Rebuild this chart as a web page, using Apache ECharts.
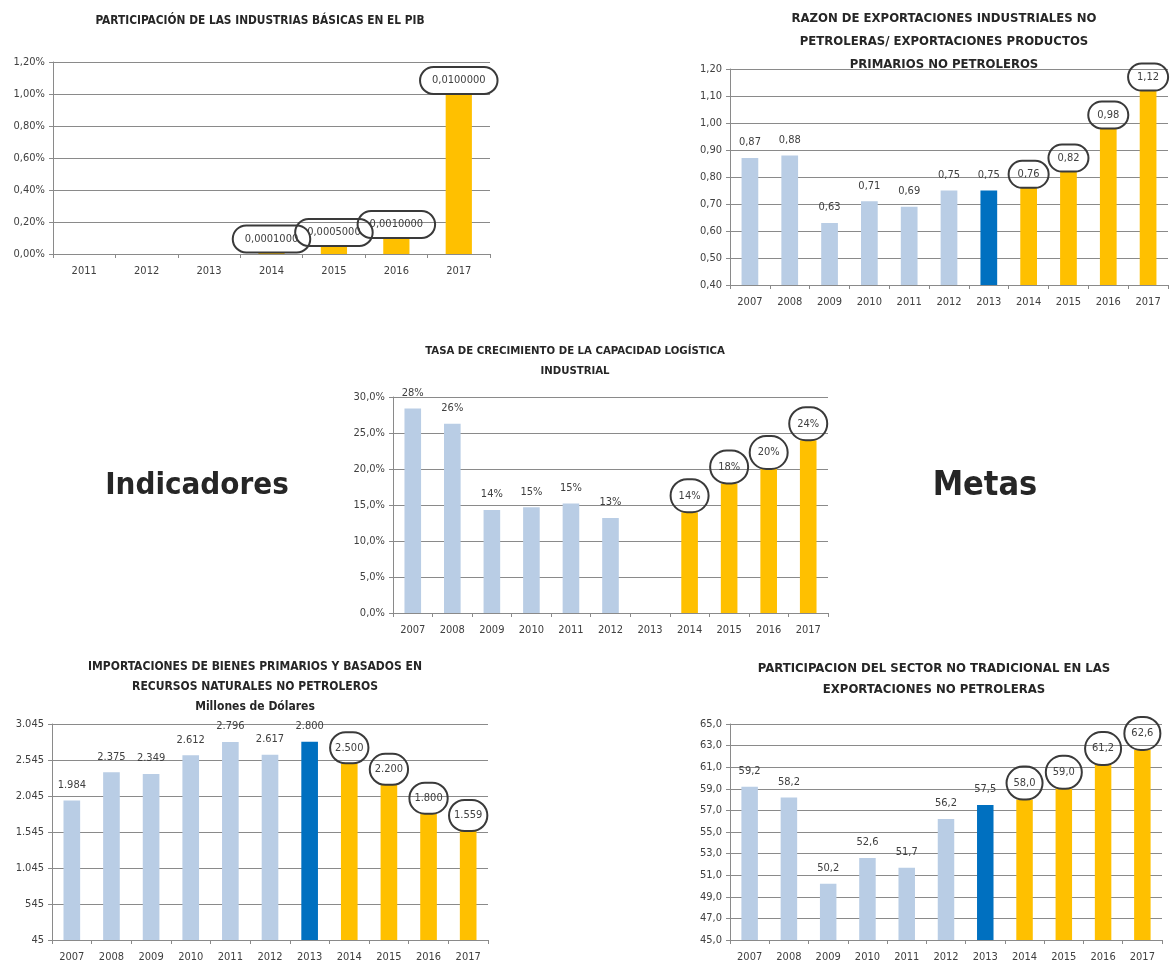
<!DOCTYPE html>
<html>
<head>
<meta charset="utf-8">
<script src="https://cdn.jsdelivr.net/npm/echarts@6/dist/echarts.min.js"></script>
<style>
  html, body { margin: 0; padding: 0; background: #fff; }
  #main { width: 1172px; height: 963px; }
</style>
</head>
<body>
<div id="main"></div>
<script>
// años de cada gráfico
var anios1 = ['2011', '2012', '2013', '2014', '2015', '2016', '2017'];
var anios = ['2007', '2008', '2009', '2010', '2011', '2012', '2013', '2014', '2015', '2016', '2017'];

// participación industrias básicas en el PIB (fracción)
var pib = [null, null, null, 0.0001, 0.0005, 0.001, 0.01];
// razón export. industriales / export. primarias
var razon = [0.87, 0.88, 0.63, 0.71, 0.69, 0.75, 0.75, 0.76, 0.82, 0.98, 1.12];
// tasa de crecimiento capacidad logística (fracción)
var tasa = [0.284, 0.263, 0.143, 0.147, 0.152, 0.132, null, 0.14, 0.18, 0.20, 0.24];
// importaciones, millones de dólares
var importaciones = [1984, 2375, 2349, 2612, 2796, 2617, 2800, 2500, 2200, 1800, 1559];
// participación sector no tradicional (%)
var noTradicional = [59.2, 58.2, 50.2, 52.6, 51.7, 56.2, 57.5, 58.0, 59.0, 61.2, 62.6];

var FONT = '"Liberation Sans Narrow", "DejaVu Sans Condensed", "Liberation Sans", sans-serif';
var GRID_COLOR = '#8a8a8a';

function coma(v, d) { return v.toFixed(d).replace('.', ','); }
function miles(v) { return String(Math.round(v)).replace(/\B(?=(\d{3})+(?!\d))/g, '.'); }

// color según año: histórico, año base (2013), metas
function colorAnio(p) {
  var a = Number(p.name);
  if (a < 2013) return '#b9cde5';
  if (a === 2013) return '#0070c0';
  return '#ffc000';
}

function serie(idx, datos, fmt, pad) {
  return {
    type: 'bar',
    xAxisIndex: idx,
    yAxisIndex: idx,
    data: datos,
    barWidth: '42%',
    itemStyle: { color: colorAnio },
    label: {
      show: true,
      position: 'top',
      distance: 0,
      formatter: function (p) {
        if (p.value == null) return '';
        var t = fmt(p.value);
        return Number(p.name) >= 2014 ? '{c|' + t + '}' : '{p|' + t + '}';
      },
      rich: {
        c: {
          fontFamily: FONT, fontSize: 11, color: '#404040',
          borderColor: '#3a3a3a', borderWidth: 1, borderRadius: 40,
          padding: pad, backgroundColor: 'rgba(255,255,255,0)'
        },
        p: { fontFamily: FONT, fontSize: 11, color: '#404040', padding: [0, 0, 10, 0] }
      }
    }
  };
}

function ejeX(idx, cats) {
  return {
    type: 'category', gridIndex: idx, data: cats,
    axisLine: { lineStyle: { color: GRID_COLOR } },
    axisTick: { show: true, length: 4, lineStyle: { color: GRID_COLOR } },
    axisLabel: { fontFamily: FONT, fontSize: 11, color: '#404040', margin: 12 }
  };
}

function ejeY(idx, min, max, step, fmt) {
  return {
    type: 'value', gridIndex: idx, min: min, max: max, interval: step,
    axisLine: { show: true, lineStyle: { color: GRID_COLOR } },
    axisTick: { show: true, length: 4, lineStyle: { color: GRID_COLOR } },
    splitLine: { lineStyle: { color: GRID_COLOR, width: 1 } },
    axisLabel: { fontFamily: FONT, fontSize: 11, color: '#404040', margin: 8, formatter: fmt }
  };
}

function texto(x, y, t, size, lh, weight) {
  return {
    type: 'text', x: x, y: y,
    style: {
      text: t, fill: '#262626', textAlign: 'center', textVerticalAlign: 'top',
      font: (weight || 'bold') + ' ' + size + 'px ' + FONT, lineHeight: lh
    }
  };
}

var myChart = echarts.init(document.getElementById('main'));

var option = {
  animation: false,
  grid: [
    { left: 53, top: 62, width: 437, height: 192 },
    { left: 730, top: 69, width: 438, height: 216 },
    { left: 393, top: 397, width: 435, height: 216 },
    { left: 52, top: 724, width: 436, height: 218 },
    { left: 730, top: 724, width: 432, height: 216 }
  ],
  xAxis: [ejeX(0, anios1), ejeX(1, anios), ejeX(2, anios), ejeX(3, anios), ejeX(4, anios)],
  yAxis: [
    ejeY(0, 0, 0.012, 0.002, function (v) { return coma(v * 100, 2) + '%'; }),
    ejeY(1, 0.4, 1.2, 0.1, function (v) { return coma(v, 2); }),
    ejeY(2, 0, 0.3, 0.05, function (v) { return coma(v * 100, 1) + '%'; }),
    ejeY(3, 45, 3045, 500, function (v) { return miles(v); }),
    ejeY(4, 45, 65, 2, function (v) { return coma(v, 1); })
  ],
  series: [
    serie(0, pib, function (v) { return coma(v, 7); }, [8, 12]),
    serie(1, razon, function (v) { return coma(v, 2); }, [8, 9]),
    serie(2, tasa, function (v) { return Math.round(v * 100) + '%'; }, [11, 8]),
    serie(3, importaciones, function (v) { return miles(v); }, [10, 5]),
    serie(4, noTradicional, function (v) { return coma(v, 1); }, [11, 7])
  ],
  graphic: [
    texto(260, 13, 'PARTICIPACIÓN DE LAS INDUSTRIAS BÁSICAS EN EL PIB', 11.8, 16),
    texto(944, 7, 'RAZON DE EXPORTACIONES INDUSTRIALES NO\nPETROLERAS/ EXPORTACIONES PRODUCTOS\nPRIMARIOS NO PETROLEROS', 13, 23),
    texto(575, 341, 'TASA DE CRECIMIENTO DE LA CAPACIDAD LOGÍSTICA\nINDUSTRIAL', 11.3, 20),
    texto(255, 657, 'IMPORTACIONES DE BIENES PRIMARIOS Y BASADOS EN\nRECURSOS NATURALES NO PETROLEROS\nMillones de Dólares', 12, 20),
    texto(934, 658, 'PARTICIPACION DEL SECTOR NO TRADICIONAL EN LAS\nEXPORTACIONES NO PETROLERAS', 13, 21),
    texto(197, 468, 'Indicadores', 31, 36),
    texto(985, 468, 'Metas', 34, 36)
  ]
};

myChart.setOption(option);
</script>
</body>
</html>
